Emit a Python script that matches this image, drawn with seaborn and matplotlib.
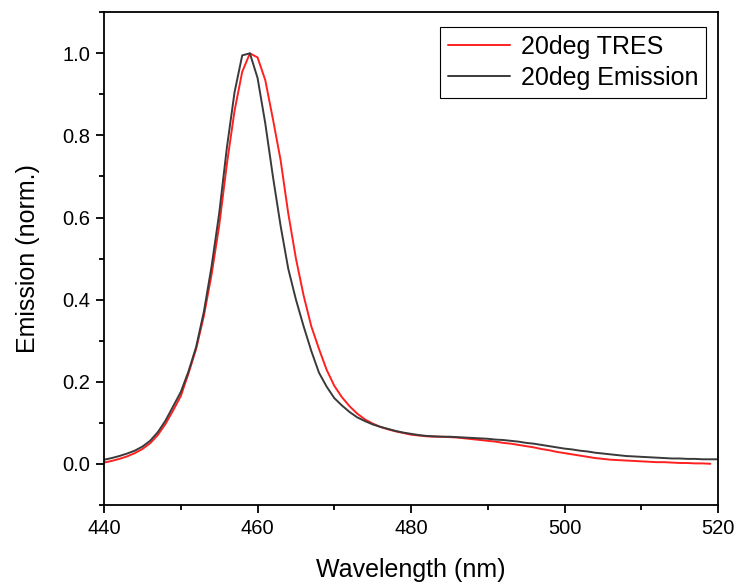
import numpy as np
import pandas as pd
import matplotlib
matplotlib.use("Agg")
import matplotlib.pyplot as plt
from matplotlib.ticker import MultipleLocator, FormatStrFormatter
import seaborn as sns

# wavelength grids (nm)
wl_emission = list(range(440, 521))
wl_tres = list(range(440, 520))

# normalised emission spectrum (dark grey)
emission = [
    0.010, 0.014, 0.019, 0.025, 0.032, 0.042, 0.056, 0.077, 0.105, 0.140,
    0.175, 0.225, 0.285, 0.370, 0.480, 0.610, 0.770, 0.905, 0.995, 1.000,
    0.940, 0.830, 0.700, 0.580, 0.475, 0.400, 0.335, 0.275, 0.222, 0.188,
    0.160, 0.142, 0.126, 0.113, 0.104, 0.096, 0.090, 0.085, 0.080, 0.076,
    0.073, 0.070, 0.068, 0.067, 0.066, 0.066, 0.065, 0.064, 0.063, 0.062,
    0.061, 0.059, 0.058, 0.056, 0.054, 0.051, 0.049, 0.046, 0.043, 0.040,
    0.037, 0.035, 0.032, 0.030, 0.027, 0.025, 0.023, 0.021, 0.019, 0.018,
    0.017, 0.016, 0.015, 0.014, 0.013, 0.013, 0.012, 0.012, 0.011, 0.011,
    0.011,
]

# normalised TRES spectrum (red)
tres = [
    0.003, 0.007, 0.012, 0.018, 0.026, 0.036, 0.050, 0.070, 0.097, 0.130,
    0.165, 0.220, 0.280, 0.360, 0.460, 0.580, 0.730, 0.860, 0.955, 1.000,
    0.990, 0.935, 0.840, 0.740, 0.610, 0.500, 0.410, 0.335, 0.280, 0.229,
    0.190, 0.162, 0.140, 0.122, 0.108, 0.098, 0.090, 0.084, 0.079, 0.075,
    0.071, 0.069, 0.067, 0.066, 0.066, 0.065, 0.064, 0.062, 0.060, 0.058,
    0.056, 0.054, 0.051, 0.049, 0.046, 0.043, 0.040, 0.036, 0.033, 0.029,
    0.026, 0.023, 0.020, 0.017, 0.014, 0.012, 0.010, 0.009, 0.008, 0.007,
    0.006, 0.005, 0.004, 0.004, 0.003, 0.002, 0.002, 0.001, 0.001, 0.000,
]

sns.set_style("ticks")
plt.rcParams["font.family"] = ["Liberation Sans", "DejaVu Sans"]
plt.rcParams["text.color"] = "black"
plt.rcParams["axes.labelcolor"] = "black"
plt.rcParams["xtick.color"] = "black"
plt.rcParams["ytick.color"] = "black"

df = pd.concat([
    pd.DataFrame({"Wavelength": wl_tres, "Emission": tres, "Series": "20deg TRES"}),
    pd.DataFrame({"Wavelength": wl_emission, "Emission": emission, "Series": "20deg Emission"}),
], ignore_index=True)

fig = plt.figure(figsize=(7.38, 5.85), dpi=100)
ax = fig.add_axes([0.141, 0.137, 0.832, 0.842])

sns.lineplot(data=df, x="Wavelength", y="Emission", hue="Series",
             palette={"20deg TRES": "#ff2020", "20deg Emission": "#3a3a3a"},
             linewidth=1.4, ax=ax)

ax.set_xlim(440, 520)
ax.set_ylim(-0.1, 1.1)
ax.xaxis.set_major_locator(MultipleLocator(20))
ax.xaxis.set_minor_locator(MultipleLocator(10))
ax.yaxis.set_major_locator(MultipleLocator(0.2))
ax.yaxis.set_minor_locator(MultipleLocator(0.1))
ax.yaxis.set_major_formatter(FormatStrFormatter("%.1f"))
ax.tick_params(which="major", direction="out", length=6, width=1.3, labelsize=14.5,
               colors="black")
ax.tick_params(axis="x", which="major", pad=4.5)
ax.tick_params(axis="y", which="major", pad=4)
ax.tick_params(which="minor", direction="out", length=3.5, width=1.3, colors="black")
for s in ax.spines.values():
    s.set_linewidth(1.3)
    s.set_color("black")

ax.set_xlabel("Wavelength (nm)", fontsize=18, labelpad=14)
ax.set_ylabel("Emission (norm.)", fontsize=18, labelpad=16)

leg = ax.legend(loc="upper right", bbox_to_anchor=(0.993, 0.985), fontsize=18,
                frameon=True, fancybox=False, edgecolor="black", framealpha=1,
                handlelength=2.5, borderpad=0.3, labelspacing=0.3, handletextpad=0.45,
                borderaxespad=0.3)
leg.get_frame().set_linewidth(0.8)
for t in leg.get_texts():
    t.set_color("black")

fig.savefig("out.png", dpi=100)
